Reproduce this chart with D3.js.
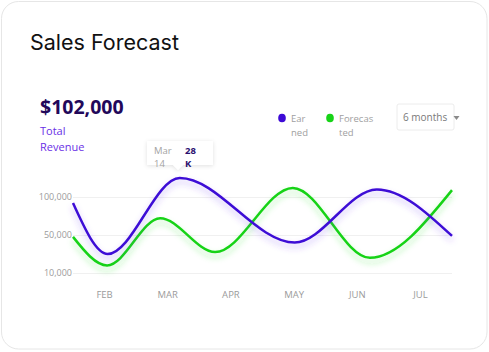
<!DOCTYPE html>
<html>
<head>
<meta charset="utf-8">
<script src="https://cdn.jsdelivr.net/npm/d3@7"></script>
<style>
  html, body { margin: 0; padding: 0; background: #fff; }
  svg { display: block; font-family: "Open Sans", sans-serif; }
</style>
</head>
<body>
<div id="chart"></div>
<script>
// Sales forecast card: earned vs forecasted, six months, smooth lines with glow.

const months = ["FEB", "MAR", "APR", "MAY", "JUN", "JUL"];
const yTicks = [10000, 50000, 100000];

// points are [month index, value]; -0.5 / 5.5 are the band edges
const earned = [[-0.5, 92000], [0.05, 30000], [1.19, 125000], [3.01, 42000], [4.31, 110000], [5.5, 49000]];
const forecasted = [[-0.5, 48000], [0.04, 18000], [0.88, 72000], [1.75, 32000], [2.98, 112000], [4.2, 26000], [5.5, 109000]];

const W = 489, H = 352;
const svg = d3.select("#chart").append("svg").attr("width", W).attr("height", H);

const defs = svg.append("defs");
function glow(id, color) {
  const f = defs.append("filter").attr("id", id)
    .attr("x", "-10%").attr("y", "-30%").attr("width", "120%").attr("height", "160%");
  f.append("feDropShadow").attr("dx", 0).attr("dy", 4).attr("stdDeviation", 3)
    .attr("flood-color", color).attr("flood-opacity", 0.35);
}
glow("glow-p", "#6a3ef0");
glow("glow-g", "#2ee02e");
const tipShadow = defs.append("filter").attr("id", "tip-sh")
  .attr("x", "-20%").attr("y", "-30%").attr("width", "140%").attr("height", "170%");
tipShadow.append("feDropShadow").attr("dx", 0).attr("dy", 1).attr("stdDeviation", 2)
  .attr("flood-color", "#000").attr("flood-opacity", 0.12);

// card
svg.append("rect").attr("x", 1.5).attr("y", 1.5).attr("width", 485.5).attr("height", 347.5)
  .attr("rx", 17).attr("fill", "#fff").attr("stroke", "#e6e6e6");

svg.append("text").attr("x", 30).attr("y", 50)
  .attr("font-family", "Inter, sans-serif").attr("font-size", 21.5).attr("fill", "#111")
  .text("Sales Forecast");

svg.append("text").attr("x", 40).attr("y", 114)
  .attr("font-size", 19.5).attr("font-weight", 700).attr("fill", "#22085a").text("$102,000");
svg.append("text").attr("x", 40).attr("y", 135)
  .attr("font-size", 11).attr("fill", "#6a2fe6").text("Total");
svg.append("text").attr("x", 40).attr("y", 151)
  .attr("font-size", 11).attr("fill", "#6a2fe6").text("Revenue");

// legend
const legend = [
  { x: 282, color: "#3d0ad6", lines: ["Ear", "ned"] },
  { x: 330, color: "#17d317", lines: ["Forecas", "ted"] },
];
legend.forEach(d => {
  svg.append("ellipse").attr("cx", d.x).attr("cy", 118).attr("rx", 3.8).attr("ry", 4.3).attr("fill", d.color);
  const t = svg.append("text").attr("font-size", 9.5).attr("fill", "#a0a0a0");
  d.lines.forEach((l, i) => t.append("tspan").attr("x", d.x + 9).attr("y", 122 + i * 14).text(l));
});

// dropdown
svg.append("rect").attr("x", 397).attr("y", 104).attr("width", 57).attr("height", 26)
  .attr("rx", 2).attr("fill", "#fff").attr("stroke", "#ececec");
svg.append("text").attr("x", 403).attr("y", 121).attr("font-size", 10).attr("fill", "#7a7a7a").text("6 months");
svg.append("path").attr("d", "M453.5,116 L459.5,116 L456.5,120 Z").attr("fill", "#8a8a8a");

// scales
const xBand = d3.scaleBand().domain(months).range([73, 452]);
const x = d3.scaleLinear().domain([-0.5, 5.5]).range([73, 452]);
const y = d3.scaleLinear().domain(yTicks).range([273, 235, 197]);

// grid + y axis
const gy = svg.append("g").attr("transform", "translate(73,0)")
  .call(d3.axisLeft(y).tickValues(yTicks).tickFormat(d3.format(",")).tickSize(-379).tickPadding(1));
gy.select(".domain").remove();
gy.selectAll(".tick line").attr("stroke", "#f0f0f0");
gy.selectAll(".tick text").attr("fill", "#9b9b9b").attr("font-size", 9).attr("font-family", "Open Sans, sans-serif");

// x axis
const gx = svg.append("g").attr("transform", "translate(0,284)")
  .call(d3.axisBottom(xBand).tickSize(0).tickPadding(7));
gx.select(".domain").remove();
gx.selectAll(".tick text").attr("fill", "#9b9b9b").attr("font-size", 9.5).attr("font-family", "Open Sans, sans-serif");

// lines
const line = d3.line().x(d => x(d[0])).y(d => y(d[1])).curve(d3.curveMonotoneX);
svg.append("path").datum(forecasted).attr("d", line).attr("fill", "none")
  .attr("stroke", "#17d317").attr("stroke-width", 2.5).attr("filter", "url(#glow-g)");
svg.append("path").datum(earned).attr("d", line).attr("fill", "none")
  .attr("stroke", "#3d0ad6").attr("stroke-width", 2.5).attr("filter", "url(#glow-p)");

// tooltip
const tip = svg.append("g").attr("transform", "translate(147,141)");
tip.append("path").attr("d", "M0,0 H66 V24 H36 L31,29 L26,24 H0 Z")
  .attr("fill", "#fff").attr("filter", "url(#tip-sh)");
const tl = tip.append("text").attr("font-size", 9.5).attr("fill", "#a3a3a3");
tl.append("tspan").attr("x", 7).attr("y", 13).text("Mar");
tl.append("tspan").attr("x", 7).attr("y", 26).text("14");
const tr = tip.append("text").attr("font-size", 9.5).attr("font-weight", 700).attr("fill", "#2a0e6e");
tr.append("tspan").attr("x", 38).attr("y", 13).text("28");
tr.append("tspan").attr("x", 38).attr("y", 26).text("K");
</script>
</body>
</html>
